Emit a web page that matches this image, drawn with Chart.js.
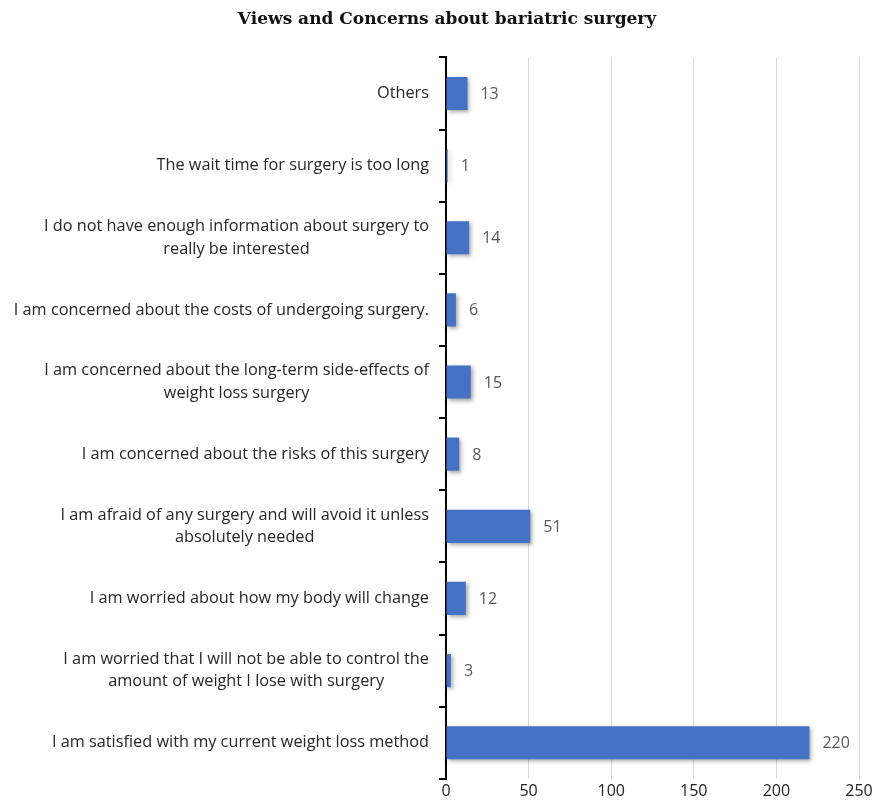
<!DOCTYPE html>
<html>
<head>
<meta charset="utf-8">
<script src="https://cdn.jsdelivr.net/npm/chart.js@4"></script>
<style>
  html, body { margin: 0; padding: 0; background: #fff; }
  #wrap { width: 877px; height: 804px; }
</style>
</head>
<body>
<div id="wrap"><canvas id="myChart"></canvas></div>
<script>
/* Data */
var categories = [
    'Others',
    'The wait time for surgery is too long',
    ['I do not have enough information about surgery to', 'really be interested'],
    'I am concerned about the costs of undergoing surgery.',
    ['I am concerned about the long-term side-effects of', 'weight loss surgery'],
    'I am concerned about the risks of this surgery',
    ['I am afraid of any surgery and will avoid it unless', 'absolutely needed'],
    'I am worried about how my body will change',
    ['I am worried that I will not be able to control the', 'amount of weight I lose with surgery'],
    'I am satisfied with my current weight loss method'
];
var responses = [13, 1, 14, 6, 15, 8, 51, 12, 3, 220];
var xTicks = [0, 50, 100, 150, 200, 250];

const ctx = document.getElementById('myChart');
var labelFont = '16.3px "Open Sans"';

// category labels: block right-aligned to the axis, lines centred within the block
var categoryLabels = {
    id: 'categoryLabels',
    afterDraw: function (chart) {
        var c = chart.ctx;
        var y = chart.scales.y;
        c.save();
        c.font = labelFont;
        c.fillStyle = '#262626';
        c.textBaseline = 'middle';
        c.textAlign = 'center';
        categories.forEach(function (lab, i) {
            var lines = Array.isArray(lab) ? lab : [lab];
            var w = Math.max.apply(null, lines.map(function (l) { return c.measureText(l).width; }));
            var cx = y.right - 17 - w / 2;
            var cy = y.getPixelForValue(i);
            var lh = 22.5;
            lines.forEach(function (l, k) {
                c.fillText(l, cx, cy + (k - (lines.length - 1) / 2) * lh);
            });
        });
        c.restore();
    }
};

// value labels at the end of each bar
var valueLabels = {
    id: 'valueLabels',
    afterDatasetsDraw: function (chart) {
        var c = chart.ctx;
        var meta = chart.getDatasetMeta(0);
        c.save();
        c.font = '16px "Open Sans"';
        c.fillStyle = '#595959';
        c.textBaseline = 'middle';
        c.textAlign = 'left';
        meta.data.forEach(function (bar, i) {
            c.fillText(responses[i], bar.x + 13, bar.y + 1);
        });
        c.restore();
    }
};

// soft drop shadow under bars
var barShadow = {
    id: 'barShadow',
    beforeDatasetsDraw: function (chart) {
        var c = chart.ctx;
        c.save();
        c.shadowColor = 'rgba(0,0,0,0.35)';
        c.shadowBlur = 4;
        c.shadowOffsetX = 2;
        c.shadowOffsetY = 2;
    },
    afterDatasetsDraw: function (chart) {
        chart.ctx.restore();
    }
};

var myChart = new Chart(ctx, {
    type: 'bar',
    data: {
        labels: categories,
        datasets: [{
            label: 'Responses',
            data: responses,
            backgroundColor: function (context) {
                var chart = context.chart;
                var el = context.element;
                if (!el || !chart.chartArea || !isFinite(el.y)) return '#4472C4';
                var g = chart.ctx.createLinearGradient(0, el.y - 17, 0, el.y + 17);
                g.addColorStop(0, '#5b87d6');
                g.addColorStop(0.5, '#4673c6');
                g.addColorStop(1, '#2f5db5');
                return g;
            },
            borderWidth: 0,
            barPercentage: 0.92,
            categoryPercentage: 0.5
        }]
    },
    plugins: [barShadow, valueLabels, categoryLabels],
    options: {
        indexAxis: 'y',
        responsive: true,
        maintainAspectRatio: false,
        animation: false,
        layout: { padding: { left: 35, right: 18, top: 0, bottom: 0 } },
        plugins: {
            legend: { display: false },
            tooltip: { enabled: false },
            title: {
                display: true,
                text: 'Views and Concerns about bariatric surgery',
                color: '#111',
                font: { family: '"DejaVu Serif"', size: 17, weight: 'bold' },
                padding: { top: 9, bottom: 28 }
            }
        },
        scales: {
            x: {
                min: 0,
                max: 250,
                afterBuildTicks: function (scale) {
                    scale.ticks = xTicks.map(function (v) { return { value: v }; });
                },
                grid: {
                    color: function (c) { return c.tick.value === 0 ? 'rgba(0,0,0,0)' : '#d9d9d9'; },
                    lineWidth: 1,
                    drawTicks: false
                },
                border: { display: false },
                ticks: {
                    color: '#222',
                    padding: 3,
                    font: { family: '"Open Sans"', size: 16 }
                }
            },
            y: {
                grid: {
                    offset: true,
                    drawOnChartArea: false,
                    color: '#000',
                    lineWidth: 2,
                    tickLength: 7
                },
                border: { display: true, color: '#000', width: 2 },
                afterFit: function (scale) { scale.width = 411; },
                ticks: { display: false }
            }
        }
    }
});
</script>
</body>
</html>
